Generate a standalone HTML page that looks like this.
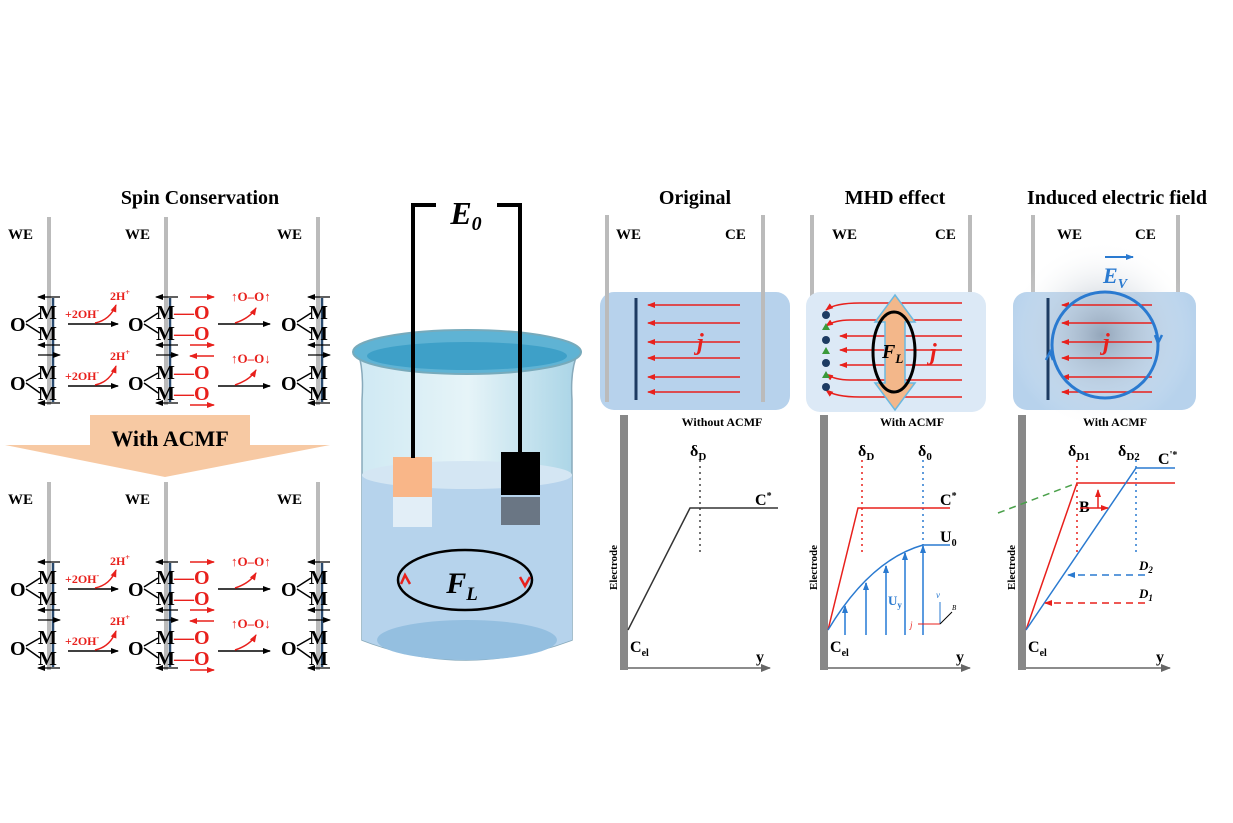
<!DOCTYPE html>
<html><head><meta charset="utf-8"><style>
html,body{margin:0;padding:0;background:#fff;}
svg{display:block;font-family:"Liberation Serif",serif;}
</style></head><body>
<svg width="1233" height="823" viewBox="0 0 1233 823" xmlns="http://www.w3.org/2000/svg">
<defs>
<marker id="ak" markerUnits="userSpaceOnUse" markerWidth="8" markerHeight="8" refX="7" refY="4" orient="auto"><path d="M0,1 L8,4 L0,7 z" fill="#000"/></marker>
<marker id="ar" markerUnits="userSpaceOnUse" markerWidth="8" markerHeight="8" refX="7" refY="4" orient="auto"><path d="M0,1 L8,4 L0,7 z" fill="#e8201c"/></marker>
<marker id="ab" markerUnits="userSpaceOnUse" markerWidth="8" markerHeight="8" refX="7" refY="4" orient="auto"><path d="M0,1 L8,4 L0,7 z" fill="#2a7ad0"/></marker>
<marker id="ag" markerUnits="userSpaceOnUse" markerWidth="10" markerHeight="10" refX="9" refY="5" orient="auto"><path d="M0,1 L10,5 L0,9 z" fill="#666"/></marker>
<radialGradient id="glow" cx="0.5" cy="0.5" r="0.5"><stop offset="0" stop-color="#8a9aad" stop-opacity="0.8"/><stop offset="1" stop-color="#ffffff" stop-opacity="0"/></radialGradient>
<linearGradient id="beak" x1="0" x2="1"><stop offset="0" stop-color="#cfe9f3"/><stop offset="0.5" stop-color="#e6f4f8"/><stop offset="1" stop-color="#a9d4e6"/></linearGradient>
</defs>

<text x="200" y="204" font-size="20" font-weight="bold" text-anchor="middle">Spin Conservation</text>
<g id="rows">
<g font-weight="bold" font-size="15">
<text x="8" y="239">WE</text><text x="125" y="239">WE</text><text x="277" y="239">WE</text>
</g>
<g stroke="#bbb" stroke-width="4"><line x1="49" y1="217" x2="49" y2="405"/><line x1="166" y1="217" x2="166" y2="405"/><line x1="318" y1="217" x2="318" y2="405"/></g>
<g stroke="#2a4a6e" stroke-width="2.5"><line x1="53" y1="298" x2="53" y2="402"/><line x1="170" y1="298" x2="170" y2="402"/><line x1="322" y1="298" x2="322" y2="402"/></g>
<g font-size="20" font-weight="bold">
<text x="10" y="331">O</text><text x="38" y="319">M</text><text x="38" y="340">M</text>
<text x="10" y="390">O</text><text x="38" y="379">M</text><text x="38" y="400">M</text>
<text x="128" y="331">O</text><text x="156" y="319">M</text><text x="156" y="340">M</text>
<text x="128" y="390">O</text><text x="156" y="379">M</text><text x="156" y="400">M</text>
<text x="281" y="331">O</text><text x="309" y="319">M</text><text x="309" y="340">M</text>
<text x="281" y="390">O</text><text x="309" y="379">M</text><text x="309" y="400">M</text>
</g>
<g stroke="#000" stroke-width="1.5" fill="none">
<path d="M26,322 L40,313 M26,324 L40,333 M26,381 L40,373 M26,383 L40,393"/>
<path d="M144,322 L158,313 M144,324 L158,333 M144,381 L158,373 M144,383 L158,393"/>
<path d="M297,322 L311,313 M297,324 L311,333 M297,381 L311,373 M297,383 L311,393"/>
<line x1="68" y1="324" x2="118" y2="324" marker-end="url(#ak)"/><line x1="68" y1="386" x2="118" y2="386" marker-end="url(#ak)"/>
<line x1="218" y1="324" x2="270" y2="324" marker-end="url(#ak)"/><line x1="218" y1="386" x2="270" y2="386" marker-end="url(#ak)"/>
</g>
<g stroke="#000" stroke-width="1.2" fill="none">
<line x1="60" y1="297" x2="38" y2="297" marker-end="url(#ak)"/><line x1="60" y1="345" x2="38" y2="345" marker-end="url(#ak)"/>
<line x1="38" y1="355" x2="60" y2="355" marker-end="url(#ak)"/><line x1="60" y1="403" x2="38" y2="403" marker-end="url(#ak)"/>
<line x1="178" y1="297" x2="156" y2="297" marker-end="url(#ak)"/><line x1="178" y1="345" x2="156" y2="345" marker-end="url(#ak)"/>
<line x1="156" y1="355" x2="178" y2="355" marker-end="url(#ak)"/><line x1="178" y1="403" x2="156" y2="403" marker-end="url(#ak)"/>
<line x1="330" y1="297" x2="308" y2="297" marker-end="url(#ak)"/><line x1="330" y1="345" x2="308" y2="345" marker-end="url(#ak)"/>
<line x1="308" y1="355" x2="330" y2="355" marker-end="url(#ak)"/><line x1="330" y1="403" x2="308" y2="403" marker-end="url(#ak)"/>
</g>
<g fill="#e8201c" font-weight="bold">
<text x="65" y="318" font-size="12">+2OH<tspan font-size="8" dy="-5">-</tspan></text>
<text x="65" y="380" font-size="12">+2OH<tspan font-size="8" dy="-5">-</tspan></text>
<text x="110" y="300" font-size="12">2H<tspan font-size="8" dy="-5">+</tspan></text>
<text x="110" y="360" font-size="12">2H<tspan font-size="8" dy="-5">+</tspan></text>
<text x="174" y="319" font-size="20">—O</text><text x="174" y="340" font-size="20">—O</text>
<text x="174" y="379" font-size="20">—O</text><text x="174" y="400" font-size="20">—O</text>
<text x="231" y="301" font-size="13">↑O–O↑</text><text x="231" y="363" font-size="13">↑O–O↓</text>
</g>
<g stroke="#e8201c" stroke-width="1.5" fill="none">
<path d="M95,323 Q110,320 116,305" marker-end="url(#ar)"/><path d="M95,385 Q110,382 116,366" marker-end="url(#ar)"/>
<path d="M235,323 Q250,318 256,308" marker-end="url(#ar)"/><path d="M235,385 Q250,380 256,370" marker-end="url(#ar)"/>
<line x1="190" y1="297" x2="214" y2="297" marker-end="url(#ar)"/><line x1="190" y1="345" x2="214" y2="345" marker-end="url(#ar)"/>
<line x1="214" y1="356" x2="190" y2="356" marker-end="url(#ar)"/><line x1="190" y1="405" x2="214" y2="405" marker-end="url(#ar)"/>
</g>
</g>
<path d="M90,415 L250,415 L250,445 L330,445 L165,477 L5,445 L90,445 Z" fill="#f7c9a3"/>
<text x="170" y="446" font-size="22" font-weight="bold" text-anchor="middle">With ACMF</text>
<use href="#rows" transform="translate(0,265)"/>

<!-- BEAKER -->
<path d="M413,450 L413,205 L436,205 M497,205 L520,205 L520,455" stroke="#000" stroke-width="4" fill="none"/>
<text x="466" y="224" font-size="32" font-weight="bold" font-style="italic" text-anchor="middle">E<tspan font-size="20" dy="6">0</tspan></text>
<path d="M358,352 Q364,370 362,400 L362,640 Q465,680 572,640 L572,400 Q570,370 578,352 Z" fill="url(#beak)" stroke="#8ab" stroke-width="1.5"/>
<path d="M362,475 Q465,500 572,475 L572,640 Q465,680 362,640 Z" fill="#b6d3ec"/>
<ellipse cx="467" cy="475" rx="105" ry="14" fill="#d4e6f3"/>
<ellipse cx="467" cy="640" rx="90" ry="20" fill="#94bfe0"/>
<ellipse cx="467" cy="352" rx="114" ry="22" fill="#5fb3d4" stroke="#7ab" stroke-width="2"/>
<ellipse cx="467" cy="356" rx="100" ry="14" fill="#3ea0c8"/>
<rect x="393" y="457" width="39" height="40" fill="#f9b688"/>
<rect x="393" y="497" width="39" height="30" fill="#eef5fa" opacity="0.8"/>
<rect x="501" y="452" width="39" height="43" fill="#000"/>
<rect x="501" y="497" width="39" height="28" fill="#6a7684"/>
<line x1="413" y1="205" x2="413" y2="458" stroke="#000" stroke-width="4"/>
<line x1="520" y1="205" x2="520" y2="453" stroke="#000" stroke-width="4"/>
<ellipse cx="465" cy="580" rx="67" ry="30" fill="none" stroke="#000" stroke-width="2.5"/>
<path d="M401,584 L405,575 L410,584 M520,577 L525,586 L530,577" stroke="#e8201c" stroke-width="2.5" fill="none"/>
<text x="462" y="593" font-size="30" font-weight="bold" font-style="italic" text-anchor="middle">F<tspan font-size="19" dy="7">L</tspan></text>

<g font-size="20" font-weight="bold" text-anchor="middle">
<text x="695" y="204">Original</text><text x="895" y="204">MHD effect</text><text x="1117" y="204">Induced electric field</text>
</g>
<rect x="600" y="292" width="190" height="118" rx="14" fill="#b7d2ec"/>
<g stroke="#bbb" stroke-width="4"><line x1="607" y1="215" x2="607" y2="402"/><line x1="763" y1="215" x2="763" y2="402"/><line x1="812" y1="215" x2="812" y2="402"/><line x1="970" y1="215" x2="970" y2="402"/><line x1="1033" y1="215" x2="1033" y2="402"/><line x1="1178" y1="215" x2="1178" y2="402"/></g>
<g font-size="15" font-weight="bold"><text x="616" y="239">WE</text><text x="725" y="239">CE</text><text x="832" y="239">WE</text><text x="935" y="239">CE</text><text x="1057" y="239">WE</text><text x="1135" y="239">CE</text></g>
<line x1="636" y1="298" x2="636" y2="400" stroke="#1d3b62" stroke-width="3"/>
<g stroke="#e8201c" stroke-width="1.5">
<line x1="740" y1="305" x2="648" y2="305" marker-end="url(#ar)"/><line x1="740" y1="323" x2="648" y2="323" marker-end="url(#ar)"/><line x1="740" y1="342" x2="648" y2="342" marker-end="url(#ar)"/><line x1="740" y1="358" x2="648" y2="358" marker-end="url(#ar)"/><line x1="740" y1="377" x2="648" y2="377" marker-end="url(#ar)"/><line x1="740" y1="392" x2="648" y2="392" marker-end="url(#ar)"/>
</g>
<text x="697" y="350" font-size="24" font-weight="bold" font-style="italic" fill="#e8201c">j</text>
<rect x="806" y="292" width="180" height="120" rx="14" fill="#dce9f6"/>
<g stroke="#e8201c" stroke-width="1.5" fill="none">
<path d="M962,303 L860,303 Q835,303 826,310" marker-end="url(#ar)"/><path d="M962,320 L850,320 Q835,320 826,326" marker-end="url(#ar)"/><path d="M962,336 L840,336" marker-end="url(#ar)"/><path d="M962,350 L840,350" marker-end="url(#ar)"/><path d="M962,365 L840,365" marker-end="url(#ar)"/><path d="M962,380 L850,380 Q835,380 826,374" marker-end="url(#ar)"/><path d="M962,397 L860,397 Q835,397 826,390" marker-end="url(#ar)"/>
</g>
<path d="M895,295 L915,322 L905,322 L905,383 L915,383 L895,410 L875,383 L885,383 L885,322 L875,322 Z" fill="#f3b78a" stroke="#6ab8e0" stroke-width="1.5"/>
<ellipse cx="894" cy="352" rx="21" ry="40" fill="none" stroke="#000" stroke-width="3"/>
<text x="882" y="358" font-size="20" font-weight="bold" font-style="italic">F<tspan font-size="13" dy="5">L</tspan></text>
<text x="930" y="360" font-size="24" font-weight="bold" font-style="italic" fill="#e8201c">j</text>
<g fill="#1d3b62"><circle cx="826" cy="315" r="4"/><circle cx="826" cy="340" r="4"/><circle cx="826" cy="363" r="4"/><circle cx="826" cy="387" r="4"/></g>
<g fill="#3a9a3a"><path d="M826,323 l4,7 h-8z M826,347 l4,7 h-8z M826,371 l4,7 h-8z"/></g>
<rect x="1013" y="292" width="183" height="118" rx="14" fill="#b7d2ec"/>
<circle cx="1102" cy="335" r="95" fill="url(#glow)"/>
<line x1="1048" y1="298" x2="1048" y2="400" stroke="#1d3b62" stroke-width="3"/>
<g stroke="#e8201c" stroke-width="1.5">
<line x1="1152" y1="305" x2="1062" y2="305" marker-end="url(#ar)"/><line x1="1152" y1="323" x2="1062" y2="323" marker-end="url(#ar)"/><line x1="1152" y1="342" x2="1062" y2="342" marker-end="url(#ar)"/><line x1="1152" y1="358" x2="1062" y2="358" marker-end="url(#ar)"/><line x1="1152" y1="377" x2="1062" y2="377" marker-end="url(#ar)"/><line x1="1152" y1="392" x2="1062" y2="392" marker-end="url(#ar)"/>
</g>
<text x="1103" y="350" font-size="24" font-weight="bold" font-style="italic" fill="#e8201c">j</text>
<circle cx="1105" cy="345" r="53" fill="none" stroke="#2a7ad0" stroke-width="3"/>
<path d="M1155,335 l3,8 l4,-8 M1053,360 l-3,-8 l-4,8" stroke="#2a7ad0" stroke-width="2.5" fill="none"/>
<line x1="1105" y1="257" x2="1133" y2="257" stroke="#2a7ad0" stroke-width="2" marker-end="url(#ab)"/>
<text x="1103" y="283" font-size="22" font-weight="bold" font-style="italic" fill="#2a7ad0">E<tspan font-size="14" dy="5">V</tspan></text>

<g font-size="12" font-weight="bold" text-anchor="middle">
<text x="722" y="426">Without ACMF</text><text x="912" y="426">With ACMF</text><text x="1115" y="426">With ACMF</text>
</g>
<g fill="#888"><rect x="620" y="415" width="8" height="255"/><rect x="820" y="415" width="8" height="255"/><rect x="1018" y="415" width="8" height="255"/></g>
<g stroke="#666" stroke-width="1.5"><line x1="628" y1="668" x2="770" y2="668" marker-end="url(#ag)"/><line x1="828" y1="668" x2="970" y2="668" marker-end="url(#ag)"/><line x1="1026" y1="668" x2="1170" y2="668" marker-end="url(#ag)"/></g>
<g font-size="11" font-weight="bold">
<text transform="translate(617,590) rotate(-90)">Electrode</text><text transform="translate(817,590) rotate(-90)">Electrode</text><text transform="translate(1015,590) rotate(-90)">Electrode</text>
</g>
<g font-size="16" font-weight="bold">
<text x="630" y="652">C<tspan font-size="10" dy="4">el</tspan></text><text x="830" y="652">C<tspan font-size="10" dy="4">el</tspan></text><text x="1028" y="652">C<tspan font-size="10" dy="4">el</tspan></text>
<text x="756" y="662">y</text><text x="956" y="662">y</text><text x="1156" y="662">y</text>
<text x="690" y="456">δ<tspan font-size="11" dy="4">D</tspan></text>
<text x="858" y="456">δ<tspan font-size="11" dy="4">D</tspan></text><text x="918" y="456">δ<tspan font-size="11" dy="4">0</tspan></text>
<text x="1068" y="456">δ<tspan font-size="11" dy="4">D1</tspan></text><text x="1118" y="456">δ<tspan font-size="11" dy="4">D2</tspan></text>
<text x="755" y="505">C<tspan font-size="10" dy="-6">*</tspan></text>
<text x="940" y="505">C<tspan font-size="10" dy="-6">*</tspan></text>
<text x="940" y="542">U<tspan font-size="10" dy="4">0</tspan></text>
<text x="1158" y="464">C<tspan font-size="10" dy="-6">'*</tspan></text>
<text x="1079" y="512">B</text>
</g>
<line x1="700" y1="460" x2="700" y2="556" stroke="#444" stroke-width="1.5" stroke-dasharray="2,4"/>
<polyline points="628,630 690,508 778,508" fill="none" stroke="#333" stroke-width="1.5"/>
<line x1="862" y1="460" x2="862" y2="556" stroke="#e8201c" stroke-width="1.5" stroke-dasharray="2,4"/>
<line x1="923" y1="460" x2="923" y2="545" stroke="#2a7ad0" stroke-width="1.5" stroke-dasharray="2,4"/>
<polyline points="828,630 858,508 950,508" fill="none" stroke="#e8201c" stroke-width="1.5"/>
<path d="M828,630 Q870,560 923,545 L950,545" fill="none" stroke="#2a7ad0" stroke-width="1.5"/>
<g stroke="#5b9be0" stroke-width="2">
<line x1="845" y1="635" x2="845" y2="606" marker-end="url(#ab)"/><line x1="866" y1="635" x2="866" y2="583" marker-end="url(#ab)"/><line x1="886" y1="635" x2="886" y2="566" marker-end="url(#ab)"/><line x1="905" y1="635" x2="905" y2="553" marker-end="url(#ab)"/><line x1="923" y1="635" x2="923" y2="546" marker-end="url(#ab)"/>
</g>
<text x="888" y="605" font-size="13" font-weight="bold" fill="#2a7ad0">U<tspan font-size="9" dy="3">y</tspan></text>
<g stroke-width="1" fill="none"><line x1="940" y1="624" x2="940" y2="602" stroke="#2a7ad0"/><line x1="940" y1="624" x2="918" y2="624" stroke="#e8201c"/><line x1="940" y1="624" x2="952" y2="612" stroke="#000"/></g>
<text x="936" y="598" font-size="9" font-style="italic" fill="#2a7ad0">v</text><text x="910" y="628" font-size="9" font-style="italic" fill="#e8201c">j</text><text x="952" y="610" font-size="7" font-style="italic">B</text>
<line x1="998" y1="513" x2="1077" y2="483" stroke="#4aa04a" stroke-width="1.5" stroke-dasharray="7,5"/>
<line x1="1077" y1="460" x2="1077" y2="556" stroke="#e8201c" stroke-width="1.5" stroke-dasharray="2,4"/>
<line x1="1136" y1="460" x2="1136" y2="556" stroke="#2a7ad0" stroke-width="1.5" stroke-dasharray="2,4"/>
<polyline points="1026,630 1077,483 1175,483" fill="none" stroke="#e8201c" stroke-width="1.5"/>
<polyline points="1026,630 1136,468 1175,468" fill="none" stroke="#2a7ad0" stroke-width="1.5"/>
<line x1="1145" y1="575" x2="1068" y2="575" stroke="#2a7ad0" stroke-width="1.5" stroke-dasharray="7,5" marker-end="url(#ab)"/>
<line x1="1145" y1="603" x2="1045" y2="603" stroke="#e8201c" stroke-width="1.5" stroke-dasharray="7,5" marker-end="url(#ar)"/>
<line x1="1098" y1="508" x2="1098" y2="490" stroke="#e8201c" stroke-width="1.5" marker-end="url(#ar)"/>
<line x1="1080" y1="508" x2="1108" y2="508" stroke="#e8201c" stroke-width="1.5" marker-end="url(#ar)"/>
<text x="1139" y="570" font-size="13" font-weight="bold" font-style="italic">D<tspan font-size="9" dy="3">2</tspan></text>
<text x="1139" y="598" font-size="13" font-weight="bold" font-style="italic">D<tspan font-size="9" dy="3">1</tspan></text>
</svg>
</body></html>
